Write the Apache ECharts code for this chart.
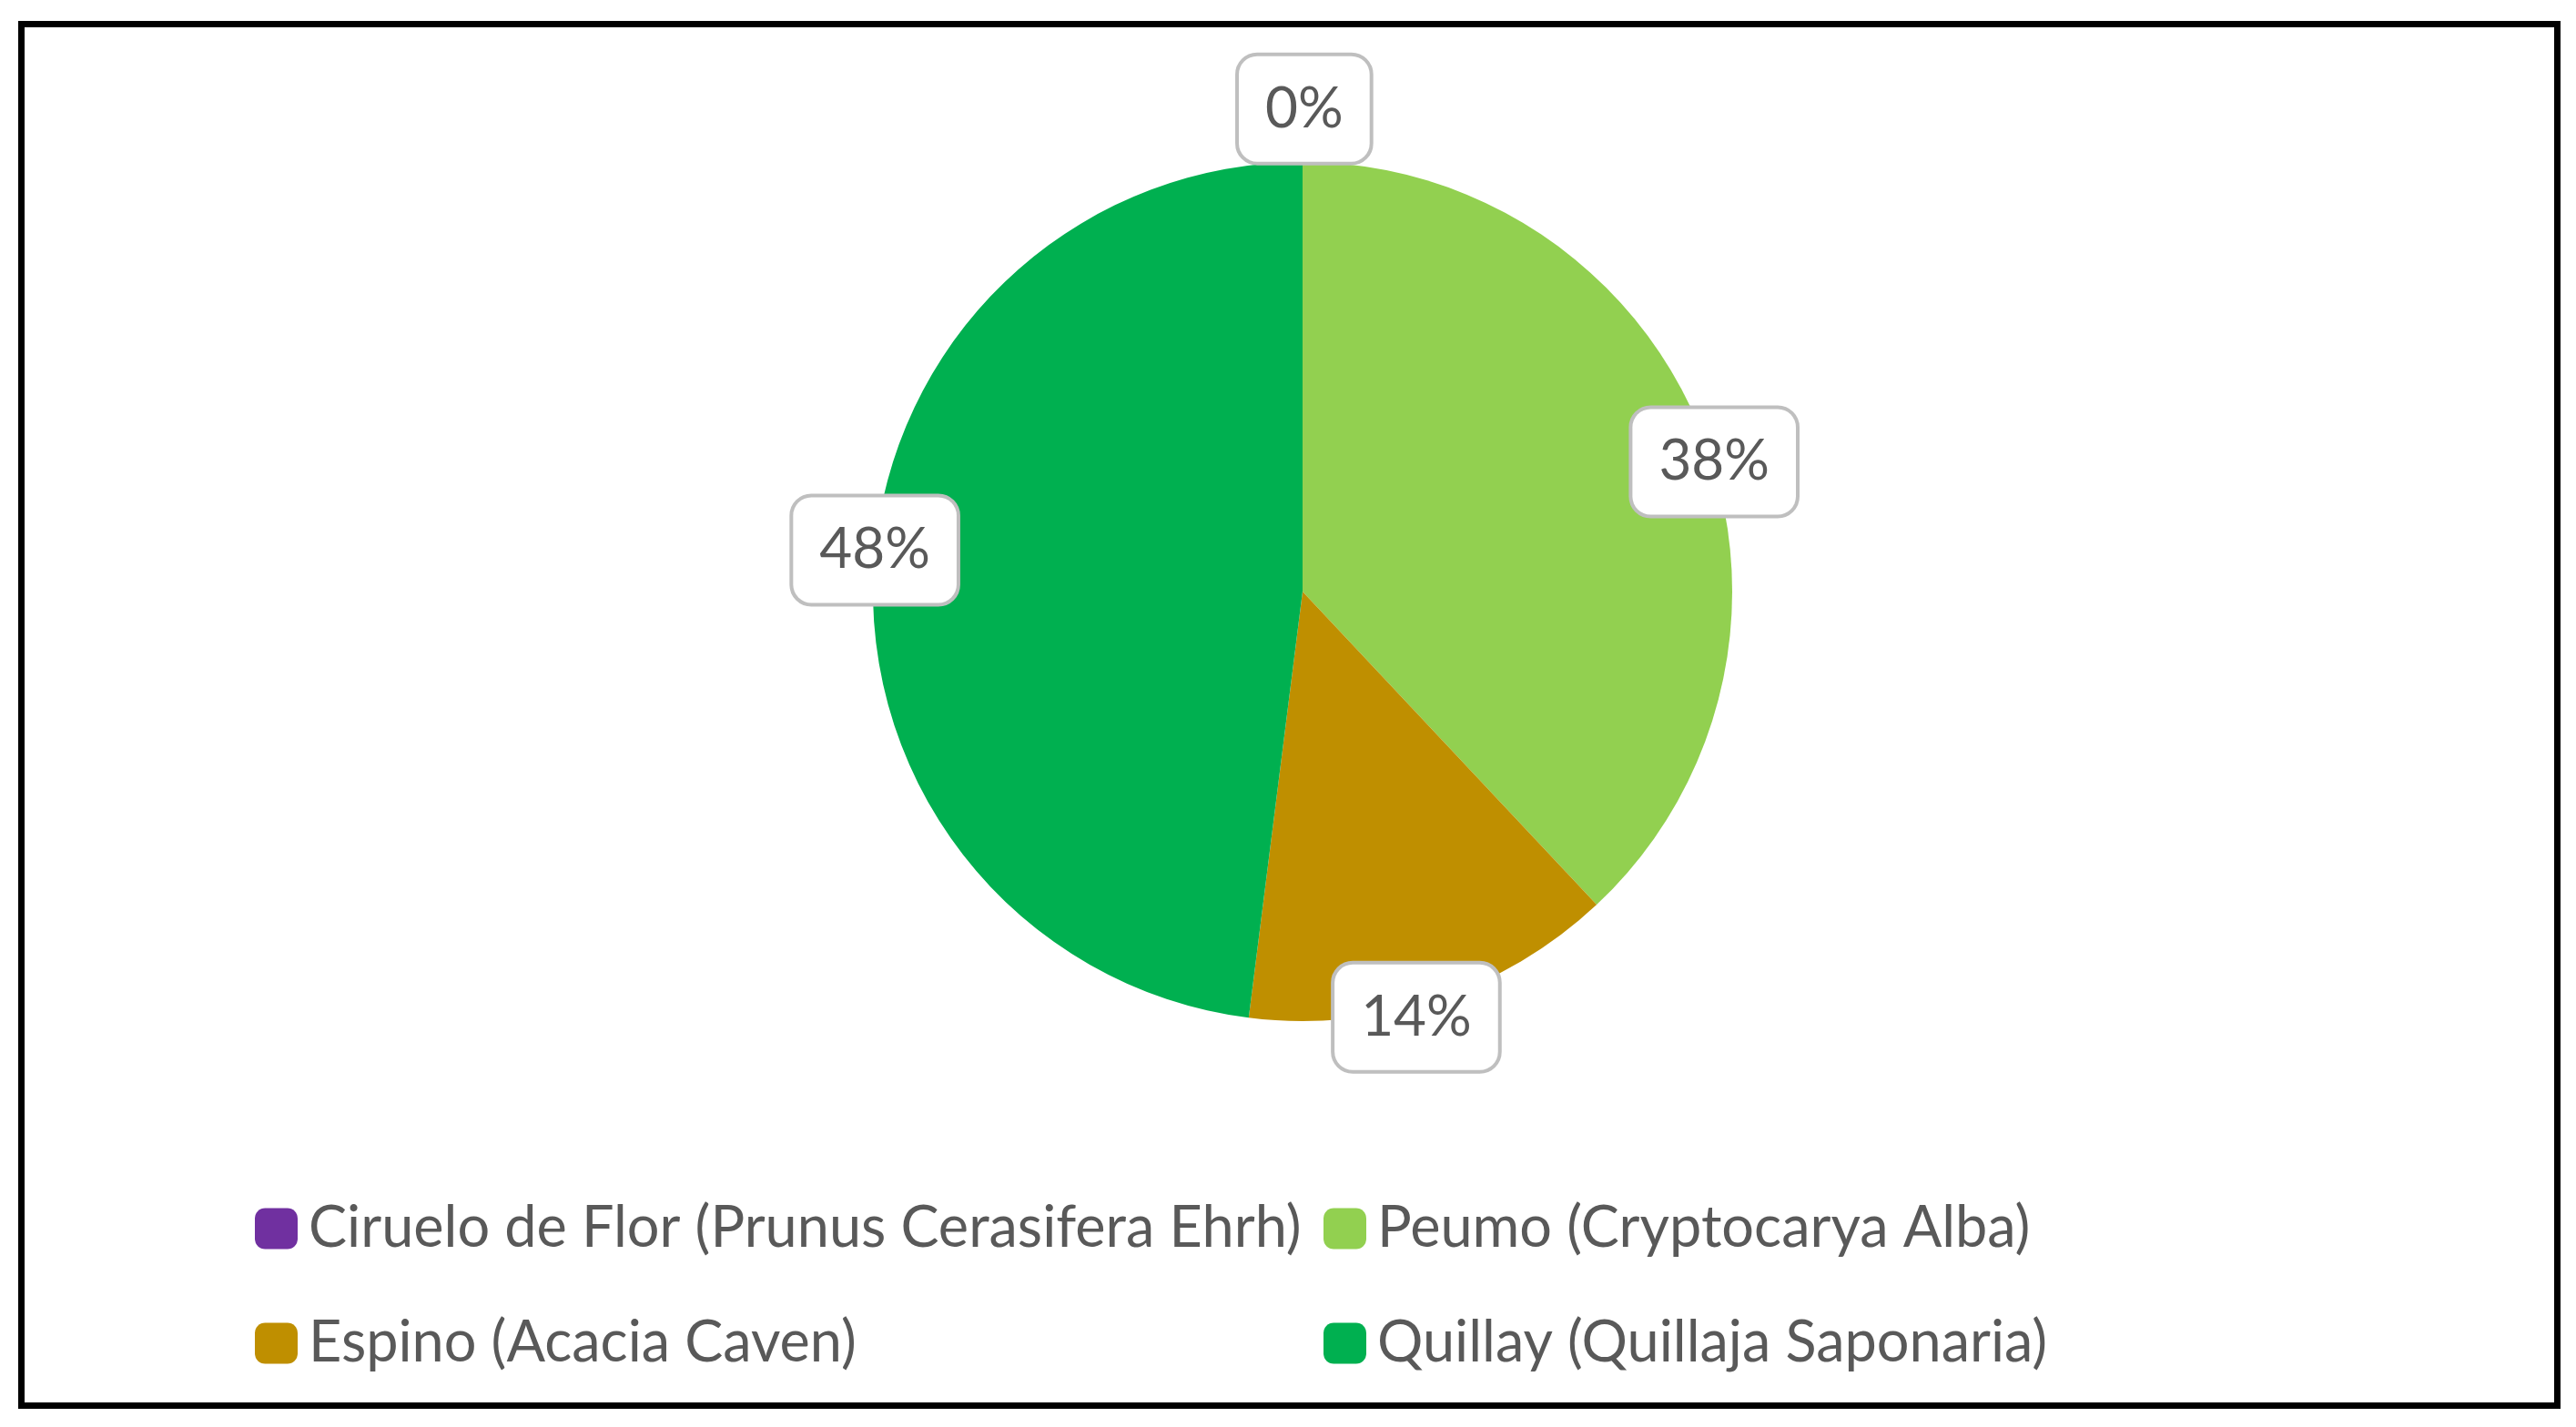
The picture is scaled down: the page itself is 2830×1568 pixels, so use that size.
<!DOCTYPE html>
<html>
<head>
<meta charset="utf-8">
<script src="https://cdn.jsdelivr.net/npm/echarts@6/dist/echarts.min.js"></script>
<style>
  html, body { margin: 0; padding: 0; background: #fff; }
  #chart-pie { width: 2830px; height: 1568px; }
</style>
</head>
<body>
<div id="chart-pie"></div>
<script>
var names = [
  "Ciruelo de Flor (Prunus Cerasifera Ehrh)",
  "Peumo (Cryptocarya Alba)",
  "Espino (Acacia Caven)",
  "Quillay (Quillaja Saponaria)"
];
var values = [0, 38, 14, 48];
var colors = ["#7030A0", "#92D050", "#BF8F00", "#00B050"];

function pie() {
  var myChart = echarts.init(document.getElementById("chart-pie"));

  var slices = [];
  var labelSlices = [];
  for (let i = 0; i < names.length; i++) {
    slices.push({ name: names[i], value: values[i], itemStyle: { color: colors[i] } });
    let item = { name: names[i], value: values[i] };
    // empty slice: excel pushes its label out of the pie
    if (values[i] === 0) {
      item.label = { offset: [-25, -65] };
    }
    labelSlices.push(item);
  }

  var legendText = {
    fontFamily: "Lato",
    fontSize: 63,
    lineHeight: 66,
    color: "#595959",
    padding: [0, 0, 0, 7],
  };

  var option = {
    animation: false,
    graphic: [
      {
        type: "rect",
        shape: { x: 23.5, y: 26.5, width: 2786, height: 1518 },
        style: { fill: "none", stroke: "#000", lineWidth: 7 },
        silent: true,
      },
    ],
    legend: [
      {
        orient: "vertical",
        left: 275,
        top: 1312,
        itemGap: 60,
        itemWidth: 47,
        itemHeight: 45,
        icon: "roundRect",
        data: [names[0], names[2]],
        textStyle: legendText,
        selectedMode: false,
      },
      {
        orient: "vertical",
        left: 1449,
        top: 1312,
        itemGap: 60,
        itemWidth: 47,
        itemHeight: 45,
        icon: "roundRect",
        data: [names[1], names[3]],
        textStyle: legendText,
        selectedMode: false,
      },
    ],
    series: [
      {
        type: "pie",
        center: [1431, 650],
        radius: 472,
        startAngle: 90,
        clockwise: true,
        data: slices,
        label: { show: false },
        labelLine: { show: false },
        emphasis: { disabled: true },
        silent: true,
      },
      {
        // transparent ring, only used to put the boxes on the pie edge
        type: "pie",
        center: [1433, 659],
        radius: [462, 482],
        startAngle: 87,
        clockwise: true,
        data: labelSlices,
        itemStyle: { color: "rgba(0,0,0,0)" },
        emphasis: { disabled: true },
        silent: true,
        label: {
          show: true,
          position: "inside",
          formatter: function (p) {
            return Math.round(p.percent) + "%";
          },
          fontFamily: "Lato",
          fontSize: 62,
          color: "#595959",
          backgroundColor: "#fff",
          borderColor: "#BFBFBF",
          borderWidth: 4,
          borderRadius: 20,
          padding: [27, 29, 27, 29],
        },
        labelLine: { show: false },
      },
    ],
  };

  myChart.setOption(option);
}

window.onload = function () {
  pie();
};
</script>
</body>
</html>
